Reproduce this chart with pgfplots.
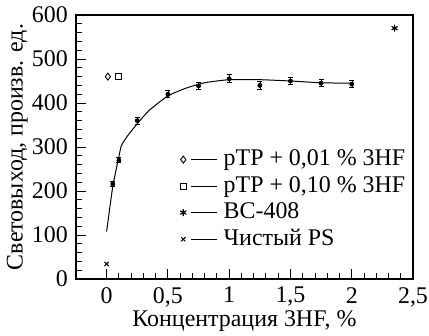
\documentclass[border=0pt]{standalone}
\usepackage{fontspec}
\setmainfont{Liberation Serif}
\usepackage{pgfplots}
\pgfplotsset{compat=1.18}
\usetikzlibrary{plotmarks}

\begin{document}
\fontsize{24}{28}\selectfont
\begin{tikzpicture}
\begin{axis}[
  scale only axis,
  width=337bp, height=264bp,
  xmin=-0.25, xmax=2.5,
  ymin=0, ymax=600,
  xtick={0,0.5,1,1.5,2,2.5},
  ytick={0,100,200,300,400,500,600},
  minor x tick num=4,
  minor y tick num=4,
  tick pos=left,
  tick align=inside,
  major tick length=10bp,
  minor tick length=6bp,
  axis line style={line width=1.3pt},
  every tick/.style={black, line width=0.9pt},
  /pgf/number format/use comma,
  /pgf/number format/assume math mode=true,
  ticklabel style={font=\fontsize{24}{28}\selectfont},
  label style={font=\fontsize{24}{28}\selectfont},
  xlabel={Концентрация 3HF, \%},
  ylabel={Световыход, произв. ед.},
  xlabel style={yshift=12bp},
  ylabel style={yshift=-12bp},
  legend style={
    at={(rel axis cs:0.30,0.505)}, anchor=north west,
    draw=none, fill=none,
    font=\fontsize{24}{28}\selectfont,
    row sep=3bp,
  },
  legend cell align=left,
  % marker followed by a short dash, as in the key of the original figure
  legend image code/.code={
    \draw[#1] plot coordinates {(0bp,0bp)};
    \draw[black, line width=0.8pt] (8bp,0bp) -- (34bp,0bp);
  },
]
\coordinate (frame-sw) at (rel axis cs:0,0);

% pTP + 0.01 % 3HF
\addplot[only marks, mark=diamond, mark size=3.5pt, black, line width=0.9pt]
  coordinates {(0.01,460)};
\addlegendentry{\hspace{4bp}pTP + 0,01 \% 3HF}

% pTP + 0.10 % 3HF
\addplot[only marks, mark=square, mark size=3pt, black, line width=0.9pt]
  coordinates {(0.10,460)};
\addlegendentry{\hspace{4bp}pTP + 0,10 \% 3HF}

% BC-408 reference scintillator
\addplot[only marks, mark=asterisk, mark size=3.5pt, black, line width=1.2pt]
  coordinates {(2.35,570)};
\addlegendentry{\hspace{4bp}BC-408}

% pure polystyrene
\addplot[only marks, mark=x, mark size=3pt, black, line width=1pt]
  coordinates {(0,34)};
\addlegendentry{\hspace{4bp}Чистый PS}

% measured points with errors
\addplot[only marks, mark=none, black, line width=0.8pt,
  error bars/.cd, y dir=both, y explicit,
  error mark options={rotate=90, mark size=2.5pt, line width=0.8pt}]
  table[x=x, y=y, y error=e] {
    x     y    e
    0.05  216  6
    0.10  270  6
    0.25  360  8
    0.50  420  8
    0.75  439  8
    1.00  455  9
    1.25  440  9
    1.50  450  8
    1.75  445  8
    2.00  443  8
  };

% fitted curve
\addplot[black, line width=1pt, smooth, tension=0.35] coordinates {
  (0,108) (0.05,210) (0.10,278) (0.12,303) (0.17,325) (0.25,353) (0.35,384)
  (0.5,416) (0.65,434) (0.8,446) (1.0,453) (1.25,453) (1.5,450) (1.75,446) (2.0,445)
};

\end{axis}
% fixed page frame around the axis
\pgfresetboundingbox
\path (frame-sw) ++(-76bp,-57bp) rectangle ++(429bp,336bp);
\end{tikzpicture}
\end{document}
